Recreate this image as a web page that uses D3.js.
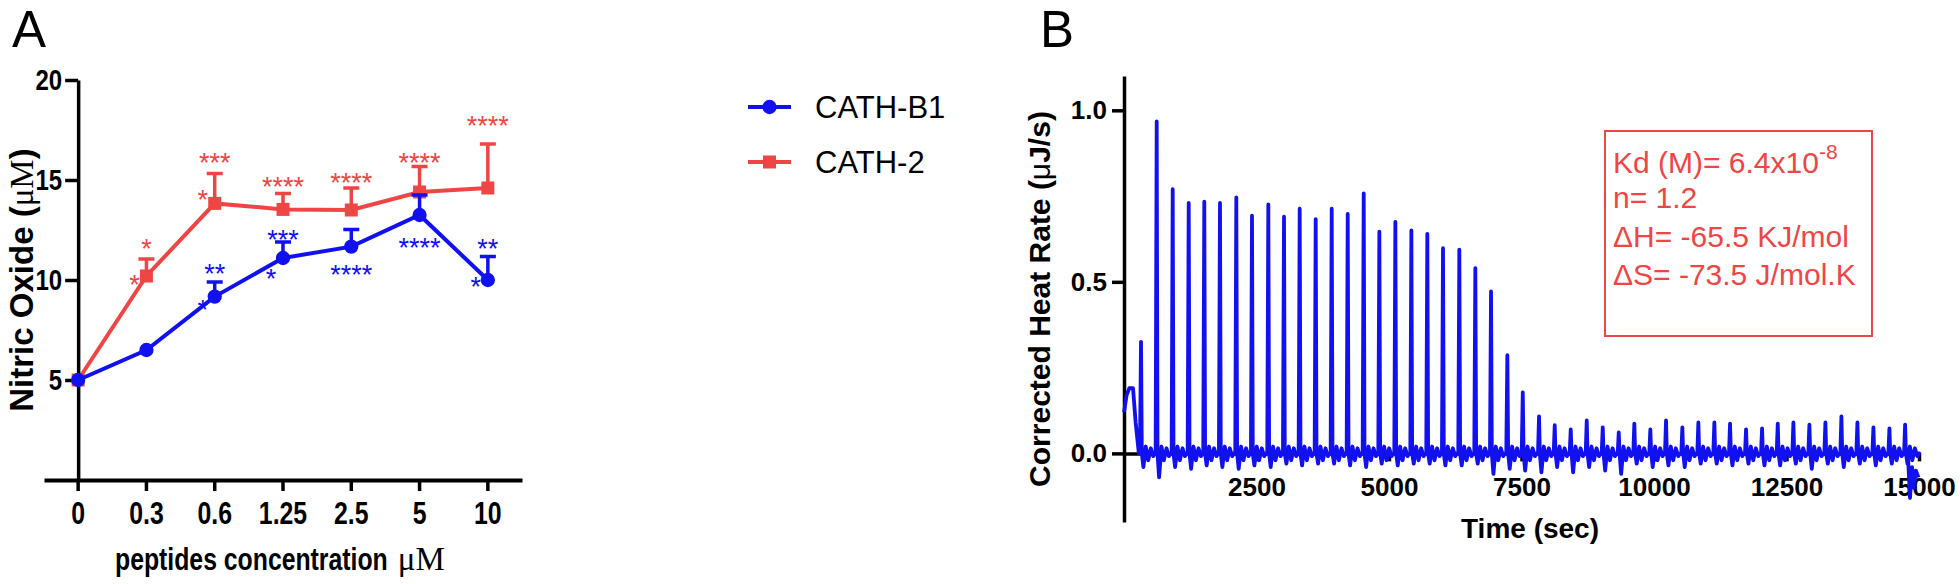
<!DOCTYPE html>
<html>
<head>
<meta charset="utf-8">
<script src="https://cdn.jsdelivr.net/npm/d3@7"></script>
<style>
  body { margin: 0; background: #fff; }
  svg { display: block; }
</style>
</head>
<body>
<script>
// ---- panel A: nitric oxide vs peptide concentration ----
const concentrations = ['0', '0.3', '0.6', '1.25', '2.5', '5', '10']
const no_ticks = [5, 10, 15, 20]

const cathB1_mean  = [5.0, 6.5, 9.17, 11.1, 11.67, 13.25, 10.0]
const cathB1_upper = [null, null, 9.9, 11.9, 12.53, 14.25, 11.17]
const cath2_mean   = [5.0, 10.2, 13.83, 13.53, 13.5, 14.4, 14.6]
const cath2_upper  = [null, 11.05, 15.33, 14.33, 14.6, 15.67, 16.8]

// significance marks: [concentration, stars, value the mark sits at, side]
const cath2_marks = [
  ['0.3', '*', 11.9, 'top'], ['0.3', '*', 10.1, 'left'],
  ['0.6', '***', 16.2, 'top'], ['0.6', '*', 14.35, 'left'],
  ['1.25', '****', 15.0, 'top'],
  ['2.5', '****', 15.2, 'top'],
  ['5', '****', 16.2, 'top'],
  ['10', '****', 18.05, 'top'],
]
const cathB1_marks = [
  ['0.6', '**', 10.65, 'top'], ['0.6', '*', 8.85, 'left'],
  ['1.25', '***', 12.35, 'top'], ['1.25', '*', 10.4, 'left'],
  ['2.5', '****', 10.6, 'top'],
  ['5', '****', 11.95, 'top'],
  ['10', '**', 11.9, 'top'], ['10', '*', 10.0, 'left'],
]

// ---- panel B: ITC thermogram ----
const time_ticks = [2500, 5000, 7500, 10000, 12500, 15000]
const heat_ticks = [0, 0.5, 1.0]

const inj_time = [321, 617, 919, 1221, 1515, 1811, 2119, 2415, 2723, 3019, 3315, 3617, 3919,
  4221, 4523, 4818, 5120, 5422, 5723, 6019, 6327, 6629, 6925, 7233, 7524, 7831, 8127, 8429,
  8731, 9033, 9335, 9629, 9931, 10227, 10535, 10837, 11139, 11435, 11737, 12039, 12335,
  12630, 12932, 13234, 13536, 13838, 14140, 14442, 14738]
const inj_peak = [0.325, 0.968, 0.77, 0.73, 0.734, 0.73, 0.746, 0.693, 0.726, 0.69, 0.713,
  0.683, 0.713, 0.698, 0.758, 0.646, 0.675, 0.65, 0.64, 0.598, 0.594, 0.54, 0.472, 0.286,
  0.178, 0.108, 0.082, 0.07, 0.096, 0.076, 0.061, 0.087, 0.07, 0.096, 0.076, 0.09, 0.09,
  0.087, 0.07, 0.073, 0.087, 0.09, 0.084, 0.09, 0.108, 0.09, 0.076, 0.073, 0.084]
const inj_dip = [0.04, 0.07, 0.04, 0.045, 0.035, 0.04, 0.045, 0.035, 0.04, 0.03, 0.035, 0.03,
  0.03, 0.035, 0.04, 0.03, 0.035, 0.03, 0.03, 0.035, 0.035, 0.03, 0.06, 0.045, 0.05, 0.055,
  0.04, 0.055, 0.04, 0.05, 0.06, 0.03, 0.04, 0.035, 0.04, 0.03, 0.03, 0.035, 0.03, 0.035,
  0.035, 0.03, 0.045, 0.03, 0.04, 0.03, 0.035, 0.03, 0.03]
const trace_start = [[0, 0.12], [50, 0.17], [100, 0.19], [170, 0.19], [220, 0.09], [280, 0.0]]
const trace_end = [[14790, 0.0], [14830, -0.13], [14870, -0.04], [14900, -0.1], [14940, -0.05], [14990, -0.07]]

const fit_lines = ['n= 1.2', 'ΔH= -65.5 KJ/mol', 'ΔS= -73.5 J/mol.K']

const blue = '#1010f0'
const red = '#f04545'
const sans = "'Liberation Sans', Arial, sans-serif"
const serif = "'Liberation Serif', 'Times New Roman', serif"

function translate(dx, dy) {
  return `translate(${dx}, ${dy})`
}

// squeeze text horizontally, standing in for a condensed bold face
function condense(sel, k) {
  sel.each(function () {
    const x = +this.getAttribute('x') || 0
    d3.select(this).attr('x', x / k).attr('transform', `scale(${k}, 1)`)
  })
}

const width = 1960
const height = 584

const svg = d3.select('body').append('svg')
  .attr('viewBox', `0 0 ${width} ${height}`)
  .attr('width', width)
  .attr('height', height)

// ================= panel A =================

const xA = d3.scaleBand().domain(concentrations).range([44, 522])
const cx = c => xA(c) + xA.bandwidth() / 2
const yA = d3.scaleLinear().domain([0, 20]).range([480, 80])

svg.append('text')
  .attr('x', 12).attr('y', 47)
  .attr('font-family', sans).attr('font-size', 51)
  .text('A')

const ax = svg.append('g')
  .attr('transform', translate(0, yA(0)))
  .call(d3.axisBottom(xA).tickSize(11).tickPadding(11).tickSizeOuter(0))
ax.select('.domain').attr('stroke-width', 4)
ax.selectAll('.tick line').attr('stroke-width', 3.5)
ax.selectAll('.tick text')
  .attr('font-family', sans).attr('font-weight', 'bold').attr('font-size', 31)
  .call(condense, 0.8)

const ay = svg.append('g')
  .attr('transform', translate(cx('0'), 0))
  .call(d3.axisLeft(yA).tickValues(no_ticks).tickSize(13).tickPadding(3).tickSizeOuter(0))
ay.select('.domain').attr('stroke-width', 3.5)
ay.selectAll('.tick line').attr('stroke-width', 3.5)
ay.selectAll('.tick text')
  .attr('font-family', sans).attr('font-weight', 'bold').attr('font-size', 30)
  .call(condense, 0.8)

const xTitle = svg.append('text')
  .attr('x', 115).attr('y', 570)
  .attr('font-family', sans).attr('font-weight', 'bold').attr('font-size', 31)
  .text('peptides concentration')
  .call(condense, 0.8)
svg.append('text')
  .attr('x', 115 + xTitle.node().getComputedTextLength() * 0.8 + 10).attr('y', 570)
  .attr('font-family', serif).attr('font-size', 33)
  .text('μM')

const yTitle = svg.append('text')
  .attr('transform', translate(33, 280) + ' rotate(-90)')
  .attr('text-anchor', 'middle')
  .attr('font-family', sans).attr('font-weight', 'bold').attr('font-size', 33)
yTitle.append('tspan').text('Nitric Oxide (')
yTitle.append('tspan').attr('font-family', serif).attr('font-weight', 'normal').text('μM')
yTitle.append('tspan').text(')')

function series(mean, upper, marks, color, shape) {
  const pts = concentrations.map((c, i) => ({c, v: mean[i], u: upper[i]}))
  const g = svg.append('g')

  g.append('g')
    .selectAll('path')
    .data(pts.filter(d => d.u != null))
    .join('path')
      .attr('d', d => `M${cx(d.c)},${yA(d.v)}V${yA(d.u)}M${cx(d.c) - 8},${yA(d.u)}H${cx(d.c) + 8}`)
      .attr('stroke', color).attr('stroke-width', 3.5).attr('fill', 'none')

  g.append('path')
    .datum(pts)
    .attr('d', d3.line().x(d => cx(d.c)).y(d => yA(d.v)))
    .attr('stroke', color).attr('stroke-width', 4).attr('fill', 'none')

  g.append('g')
    .selectAll('path')
    .data(pts)
    .join('path')
      .attr('transform', d => translate(cx(d.c), yA(d.v)))
      .attr('d', shape)
      .attr('fill', color)

  g.append('g')
    .selectAll('text')
    .data(marks)
    .join('text')
      .attr('x', d => cx(d[0]) + (d[3] == 'left' ? -12 : 0))
      .attr('y', d => yA(d[2]))
      .attr('dy', '0.58em')
      .attr('text-anchor', 'middle')
      .attr('font-family', sans).attr('font-size', 27)
      .attr('fill', color)
      .text(d => d[1])
}

const square = d3.symbol(d3.symbolSquare, 169)()
const circle = d3.symbol(d3.symbolCircle, 160)()

series(cath2_mean, cath2_upper, cath2_marks, red, square)
series(cathB1_mean, cathB1_upper, cathB1_marks, blue, circle)

const legend = svg.append('g')
  .selectAll('g')
  .data([['CATH-B1', blue, circle], ['CATH-2', red, square]])
  .join('g')
    .attr('transform', (_, i) => translate(748, 107 + 55 * i))
legend.append('path')
  .attr('d', 'M0,0H43')
  .attr('stroke', d => d[1]).attr('stroke-width', 4)
legend.append('path')
  .attr('transform', translate(21.5, 0))
  .attr('d', d => d[2])
  .attr('fill', d => d[1])
legend.append('text')
  .attr('x', 67).attr('dy', '0.36em')
  .attr('font-family', sans).attr('font-size', 31)
  .text(d => d[0])

// ================= panel B =================

const xB = d3.scaleLinear().domain([0, 15000]).range([1124, 1919])
const yB = d3.scaleLinear().domain([-0.2, 1.1]).range([522, 76])

svg.append('text')
  .attr('x', 1040).attr('y', 47)
  .attr('font-family', sans).attr('font-size', 51)
  .text('B')

const bx = svg.append('g')
  .attr('transform', translate(0, yB(0)))
  .call(d3.axisBottom(xB).tickValues(time_ticks).tickFormat(d3.format('d')).tickSize(8).tickPadding(16).tickSizeOuter(0))
bx.select('.domain').attr('stroke-width', 3.5)
bx.selectAll('.tick line').attr('stroke-width', 3.5)
bx.selectAll('.tick text')
  .attr('font-family', sans).attr('font-weight', 'bold').attr('font-size', 26)

const by = svg.append('g')
  .attr('transform', translate(xB(0), 0))
  .call(d3.axisLeft(yB).tickValues(heat_ticks).tickFormat(d3.format('.1f')).tickSize(12).tickPadding(5).tickSizeOuter(0))
by.select('.domain').attr('stroke-width', 3.5)
by.selectAll('.tick line').attr('stroke-width', 3.5)
by.selectAll('.tick text')
  .attr('font-family', sans).attr('font-weight', 'bold').attr('font-size', 26)

svg.append('text')
  .attr('x', 1530).attr('y', 538)
  .attr('text-anchor', 'middle')
  .attr('font-family', sans).attr('font-weight', 'bold').attr('font-size', 28)
  .text('Time (sec)')

const bTitle = svg.append('text')
  .attr('transform', translate(1050, 299) + ' rotate(-90)')
  .attr('text-anchor', 'middle')
  .attr('font-family', sans).attr('font-weight', 'bold').attr('font-size', 30)
bTitle.append('tspan').text('Corrected Heat Rate (')
bTitle.append('tspan').attr('font-weight', 'normal').text('μ')
bTitle.append('tspan').text('J/s)')

// each injection is drawn as a narrow spike glyph followed by an undershoot and ringing
function spike(t, h, d) {
  return [[t - 20, 0], [t, h], [t + 15, 0], [t + 45, -d], [t + 90, 0.02],
    [t + 135, -0.02], [t + 185, 0.015], [t + 230, -0.008], [t + 265, 0]]
}

const trace = [
  ...trace_start,
  ...inj_time.flatMap((t, i) => spike(t, inj_peak[i], inj_dip[i])),
  ...trace_end,
]

svg.append('path')
  .datum(trace)
  .attr('d', d3.line().x(d => xB(d[0])).y(d => yB(d[1])))
  .attr('stroke', blue).attr('stroke-width', 3.8).attr('fill', 'none')
  .attr('stroke-linejoin', 'round')

svg.append('rect')
  .attr('x', 1605).attr('y', 131)
  .attr('width', 267).attr('height', 205)
  .attr('fill', 'none').attr('stroke', red).attr('stroke-width', 2)

const box = svg.append('g')
  .attr('font-family', sans).attr('font-size', 30).attr('fill', red)
const kd = box.append('text').attr('x', 1613).attr('y', 173)
kd.append('tspan').text('Kd (M)= 6.4x10')
kd.append('tspan').attr('dy', -14).attr('font-size', 21).text('-8')
box.selectAll('text.fit')
  .data(fit_lines)
  .join('text')
    .attr('class', 'fit')
    .attr('x', 1613)
    .attr('y', (_, i) => 208 + 38.5 * i)
    .text(d => d)
</script>
</body>
</html>
